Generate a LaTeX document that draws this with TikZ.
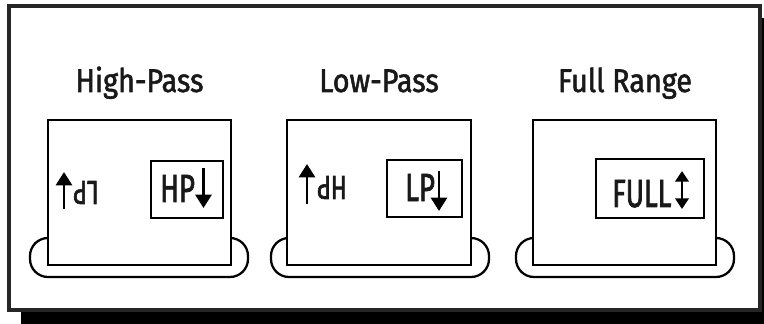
\documentclass[tikz,border=0pt]{standalone}
\usepackage{fontspec}
\setmainfont{Fira Sans}
\newfontfamily\titlefont{Fira Sans}[FakeStretch=0.88,FakeBold=1.6]
\newfontfamily\labelfont{Fira Sans}[FakeStretch=0.7,FakeBold=1.8]
\usetikzlibrary{arrows.meta}
\begin{document}
\begin{tikzpicture}[x=0.75pt,y=-0.75pt,
  unit/.style={draw=black,line width=2.2pt,fill=white},
  tray/.style={draw=black,line width=1.7pt,rounded corners=13.5pt},
  inner/.style={draw=black,line width=2pt,fill=white},
  title/.style={font=\titlefont\fontsize{24.5}{26}\selectfont,anchor=base,text=black!90},
  lbl/.style={font=\labelfont\fontsize{29.5}{31}\selectfont,anchor=base west,inner sep=0pt,text=black!90},
  rlbl/.style={font=\labelfont\fontsize{25}{27}\selectfont,anchor=center,inner sep=0pt,rotate=180,text=black!90},
  arr/.style={line width=2.1pt,-{Triangle[width=12pt,length=10pt]}},
  darr/.style={line width=2pt,{Triangle[width=10pt,length=8pt]}-{Triangle[width=10pt,length=8pt]}}
]
\useasboundingbox (0,0) rectangle (764,324);
% shadow and frame
\fill[black] (21,18) rectangle (764,324);
\draw[line width=2.6pt,fill=white,draw=black!85] (9,6) rectangle (760,310);
% titles
\node[title] (t1) at (139.5,92) {High-Pass};
\node[title] (t2) at (379,92) {Low-Pass};
\node[title] (t3) at (625,92) {Full Range};
% trays
\draw[tray] (30,238) rectangle (248,277);
\draw[tray] (271,238) rectangle (489,277);
\draw[tray] (516,238) rectangle (734,277);
% units
\draw[unit] (48,120) rectangle (231,265);
\draw[unit] (287,120) rectangle (471,265);
\draw[unit] (533,120) rectangle (716,265);
% inner boxes
\draw[inner] (151,161) rectangle (223,218);
\draw[inner] (387,160) rectangle (462,217);
\draw[inner] (596,159) rectangle (704,218);
% labels
\node[lbl] (hp) at (160,202) {HP};
\coordinate (hpA) at (203.5,168);
\coordinate (hpB) at (203.5,208);
\draw[arr] (hpA) -- (hpB);
\node[lbl] (lp) at (405,201) {LP};
\coordinate (lpA) at (439,171);
\coordinate (lpB) at (439,211);
\draw[arr] (lpA) -- (lpB);
\node[lbl] (full) at (612,207) {FULL};
\coordinate (fA) at (682,171);
\coordinate (fB) at (682,209);
\draw[darr] (fA) -- (fB);
% rotated labels
\node[rlbl] (rlp) at (86,192.5) {LP};
\coordinate (rA) at (64,209);
\coordinate (rB) at (64,172);
\draw[arr] (rA) -- (rB);
\node[rlbl] (rhp) at (332,187.5) {HP};
\coordinate (r2A) at (307,204);
\coordinate (r2B) at (307,164);
\draw[arr] (r2A) -- (r2B);
\end{tikzpicture}
\end{document}
